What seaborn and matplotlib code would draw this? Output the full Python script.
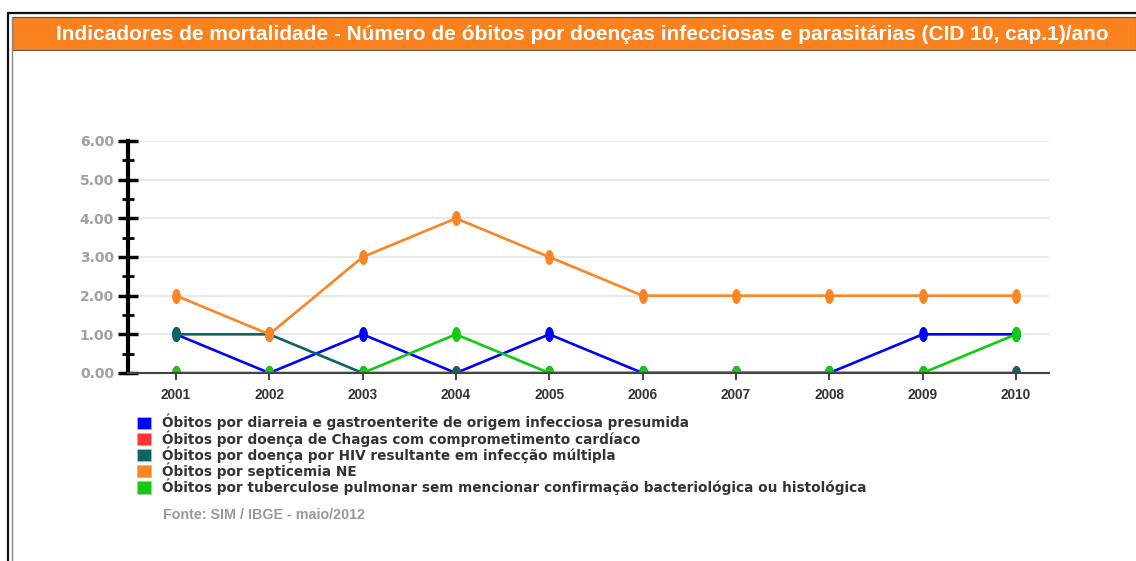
import numpy as np
import pandas as pd
import matplotlib
matplotlib.use("Agg")
import matplotlib.pyplot as plt
import seaborn as sns
from matplotlib.path import Path
from matplotlib.patches import Rectangle, Patch
from matplotlib.lines import Line2D

# data
anos = [2001, 2002, 2003, 2004, 2005, 2006, 2007, 2008, 2009, 2010]
diarreia = [1, 0, 1, 0, 1, 0, 0, 0, 1, 1]
chagas = [0, 0, 0, 0, 0, 0, 0, 0, 0, 0]
hiv = [1, 1, 0, 0, 0, 0, 0, 0, 0, 0]
septicemia = [2, 1, 3, 4, 3, 2, 2, 2, 2, 2]
tuberculose = [0, 0, 0, 1, 0, 0, 0, 0, 0, 1]

series_names = [
    "Óbitos por diarreia e gastroenterite de origem infecciosa presumida",
    "Óbitos por doença de Chagas com comprometimento cardíaco",
    "Óbitos por doença por HIV resultante em infecção múltipla",
    "Óbitos por septicemia NE",
    "Óbitos por tuberculose pulmonar sem mencionar confirmação bacteriológica ou histológica",
]
series_values = [diarreia, chagas, hiv, septicemia, tuberculose]
colors = ["#0000ff", "#ff3333", "#0a6663", "#fb8424", "#0fcc0f"]

title = "Indicadores de mortalidade - Número de óbitos por doenças infecciosas e parasitárias (CID 10, cap.1)/ano"
fonte = "Fonte: SIM / IBGE - maio/2012"

df = pd.DataFrame({
    "ano": np.tile(anos, len(series_names)),
    "serie": np.repeat(series_names, len(anos)),
    "valor": np.concatenate(series_values),
})

sns.set_style("white")
plt.rcParams["font.family"] = ["Liberation Sans", "DejaVu Sans"]

W, H = 1136, 561
fig = plt.figure(figsize=(W / 100, H / 100), dpi=100)

def fx(px):
    return px / W

def fy(py):
    return 1 - py / H

# frame and orange header
fig.add_artist(Line2D([fx(8), fx(8)], [fy(13), 0], color="#111111", lw=1.6))
fig.add_artist(Line2D([fx(12), fx(12)], [fy(17), 0], color="#888888", lw=1.0))
fig.add_artist(Line2D([fx(8), 1], [fy(13), fy(13)], color="#111111", lw=1.6))
fig.add_artist(Rectangle((fx(12), fy(50)), 1 - fx(12), fy(17) - fy(50),
                         transform=fig.transFigure, facecolor="#f9821f",
                         edgecolor="#555555", lw=0.8))
fig.text(fx(582), fy(34), title, color="white", fontsize=15, fontweight="bold",
         ha="center", va="center")

ax = fig.add_axes([fx(128), fy(373), fx(1049) - fx(128), fy(141) - fy(373)])

# vertical ellipse marker
t = np.linspace(0, 2 * np.pi, 40)
ellipse = Path(np.column_stack([0.55 * np.cos(t), np.sin(t)]), closed=True)

for name, col in zip(series_names, colors):
    sns.lineplot(data=df[df["serie"] == name], x="ano", y="valor", ax=ax,
                 color=col, lw=1.9, marker=ellipse, markersize=10,
                 markeredgecolor=col, markerfacecolor=col, legend=False,
                 zorder=3)

ax.set_xlim(2000.486, 2010.354)
ax.set_ylim(0, 6)
ax.set_xticks(anos)
ax.set_xticklabels([str(a) for a in anos])
ax.set_yticks(np.arange(0, 7, 1))
ax.set_yticklabels([f"{v:.2f}" for v in np.arange(0, 7, 1)])
ax.set_yticks(np.arange(0.5, 6, 1), minor=True)
ax.set_xlabel("")
ax.set_ylabel("")

ax.yaxis.grid(True, color="#e4e4e4", lw=1.2)
ax.set_axisbelow(True)
for s in ["top", "right"]:
    ax.spines[s].set_visible(False)
ax.spines["left"].set_color("black")
ax.spines["left"].set_linewidth(3.0)
ax.spines["bottom"].set_color("#444444")
ax.spines["bottom"].set_linewidth(1.5)
ax.spines["bottom"].set_zorder(4)

ax.tick_params(axis="y", which="major", direction="inout", length=14, width=2.5,
               color="black", left=True, labelsize=10, labelcolor="#a0a0a0", pad=3)
ax.tick_params(axis="y", which="minor", direction="inout", length=9, width=2,
               color="black", left=True)
ax.tick_params(axis="x", direction="inout", length=10, width=1.2, color="#222222",
               labelsize=9.8, labelcolor="#333333", pad=6, bottom=True)
for lab in ax.get_yticklabels():
    lab.set_fontweight("bold")
    lab.set_family("DejaVu Sans")
for lab in ax.get_xticklabels():
    lab.set_fontweight("bold")

handles = [Patch(facecolor=c, edgecolor="#bbbbbb", lw=0.5) for c in colors]
leg = fig.legend(handles, series_names, loc="upper left",
                 bbox_to_anchor=(fx(137), fy(414)), frameon=False,
                 prop={"family": "DejaVu Sans", "weight": "bold", "size": 9.8},
                 handlelength=1.05, handleheight=1.05,
                 handletextpad=0.8, labelspacing=-0.03, borderpad=0,
                 borderaxespad=0)
for txt in leg.get_texts():
    txt.set_color("#333333")

fig.text(fx(163), fy(515), fonte, color="#999999", fontsize=10.3, fontweight="bold",
         ha="left", va="center")

fig.savefig("out.png", dpi=100, facecolor="white")
